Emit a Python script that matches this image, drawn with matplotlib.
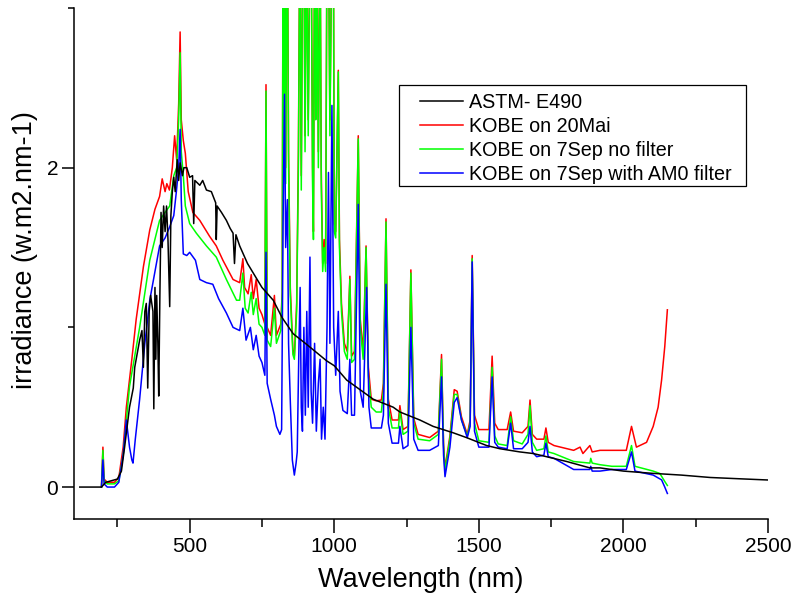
import matplotlib
matplotlib.use('Agg')
import matplotlib.pyplot as plt
from matplotlib.ticker import MultipleLocator
from matplotlib.patches import Rectangle

plt.rcParams['font.family'] = ['Liberation Sans', 'DejaVu Sans']

# ASTM E490 reference spectrum
astm_wl = [120, 195, 200, 210, 230, 250, 264, 275, 292, 305, 310, 327, 335, 340, 345, 350,
           355, 360, 365, 373, 376, 380, 383, 386, 390, 393, 397, 401, 405, 410, 415, 420,
           425, 431, 435, 440, 445, 450, 457, 462, 467, 475, 480, 490, 500, 510, 514, 518,
           535, 545, 558, 575, 590, 592, 595, 610, 627, 640, 650, 655, 660, 673, 700, 720,
           750, 789, 820, 858, 900, 927, 974, 1000, 1043, 1089, 1135, 1204, 1227, 1296, 1342,
           1411, 1457, 1527, 1573, 1642, 1688, 1804, 1884, 1919, 2000, 2100, 2200, 2300, 2400, 2503]
astm_val = [0.0, 0.0, 0.01, 0.03, 0.04, 0.05, 0.10, 0.25, 0.50, 0.62, 0.75, 0.92, 0.98, 0.75, 1.10, 1.15,
            0.62, 1.10, 1.20, 1.10, 0.49, 1.25, 0.80, 1.20, 0.90, 0.57, 1.20, 1.72, 1.50, 1.76, 1.60, 1.76,
            1.55, 1.13, 1.70, 1.85, 1.94, 1.85, 2.05, 1.92, 2.03, 1.95, 2.00, 2.00, 1.94, 1.95, 1.65, 1.92,
            1.89, 1.92, 1.86, 1.85, 1.78, 1.55, 1.76, 1.72, 1.67, 1.62, 1.59, 1.40, 1.58, 1.51, 1.40, 1.34,
            1.25, 1.17, 1.06, 0.96, 0.90, 0.86, 0.79, 0.76, 0.67, 0.61, 0.55, 0.50, 0.47, 0.42, 0.38,
            0.34, 0.31, 0.26, 0.24, 0.22, 0.21, 0.16, 0.12, 0.12, 0.10, 0.086, 0.075, 0.06, 0.052, 0.044]

# KOBE on 20Mai
mai_wl = [195, 200, 204, 215, 240, 255, 270, 281, 300, 315, 340, 362, 380, 396, 405, 415,
          421, 430, 440, 448, 455, 462, 467, 471, 478, 485, 495, 511, 535, 569, 592, 615,
          650, 673, 684, 690, 702, 713, 720, 730, 740, 750, 760, 764, 768, 780, 793, 800,
          815, 820, 823, 826, 828, 832, 835, 838, 842, 848, 857, 862, 870, 876, 881, 886,
          891, 895, 899, 904, 910, 916, 920, 925, 928, 932, 936, 940, 945, 951, 955, 960,
          965, 970, 975, 980, 985, 992, 997, 1000, 1005, 1014, 1018, 1025, 1035, 1045, 1054, 1060,
          1070, 1083, 1090, 1100, 1110, 1118, 1128, 1145, 1163, 1170, 1179, 1187, 1200, 1222, 1227, 1238,
          1255, 1265, 1275, 1290, 1330, 1360, 1371, 1378, 1383, 1400, 1415, 1425, 1440, 1460, 1470, 1477,
          1485, 1500, 1535, 1546, 1555, 1567, 1598, 1610, 1620, 1650, 1670, 1677, 1685, 1700, 1725, 1732,
          1740, 1760, 1828, 1850, 1860, 1884, 1892, 1919, 1960, 2010, 2028, 2045, 2080, 2103, 2120, 2132,
          2143, 2152]
mai_val = [0.0, 0.25, 0.05, 0.03, 0.03, 0.06, 0.25, 0.50, 0.80, 1.05, 1.38, 1.61, 1.74, 1.82, 1.93, 1.85,
           1.90, 1.86, 2.00, 2.20, 2.05, 2.40, 2.85, 2.30, 2.17, 2.09, 1.85, 1.72, 1.67, 1.57, 1.51, 1.42,
           1.30, 1.28, 1.43, 1.25, 1.21, 1.33, 1.18, 1.30, 1.12, 1.08, 1.02, 2.52, 1.00, 0.95, 1.20, 0.95,
           1.02, 1.22, 3.50, 2.05, 3.50, 2.00, 3.10, 3.50, 2.10, 1.25, 0.86, 0.82, 1.15, 2.10, 3.50, 1.95,
           3.50, 3.50, 2.20, 3.50, 2.30, 3.50, 3.50, 2.00, 1.60, 3.50, 2.40, 3.50, 2.10, 3.50, 2.00, 1.40,
           1.55, 1.40, 3.50, 3.50, 2.30, 3.50, 3.50, 1.65, 1.60, 2.61, 1.55, 1.15, 0.90, 0.85, 1.32, 0.82,
           0.85, 2.20, 1.05, 0.85, 1.51, 0.75, 0.55, 0.54, 0.545, 0.65, 1.68, 0.55, 0.42, 0.42, 0.51, 0.36,
           0.38, 1.36, 0.43, 0.33, 0.31, 0.35, 0.83, 0.27, 0.12, 0.32, 0.61, 0.60, 0.44, 0.33, 0.42, 1.45,
           0.45, 0.36, 0.36, 0.82, 0.40, 0.36, 0.36, 0.47, 0.35, 0.34, 0.38, 0.545, 0.33, 0.30, 0.30, 0.37,
           0.28, 0.26, 0.23, 0.25, 0.21, 0.26, 0.22, 0.23, 0.23, 0.23, 0.38, 0.25, 0.28, 0.38, 0.50, 0.67,
           0.88, 1.11]

# KOBE on 7Sep no filter
sep_wl = [195, 200, 204, 215, 240, 255, 270, 292, 327, 362, 396, 415, 431, 445, 455, 462,
          467, 471, 478, 485, 500, 523, 558, 592, 627, 662, 673, 684, 692, 702, 713, 720,
          730, 740, 750, 760, 764, 768, 780, 793, 800, 815, 820, 823, 826, 828, 832, 835,
          838, 842, 848, 857, 862, 870, 876, 881, 886, 891, 895, 899, 904, 910, 916, 920,
          925, 928, 932, 936, 940, 945, 951, 955, 960, 965, 970, 975, 980, 985, 992, 997,
          1000, 1005, 1014, 1018, 1025, 1035, 1045, 1054, 1060, 1070, 1083, 1090, 1100, 1110, 1118, 1128,
          1145, 1163, 1170, 1179, 1187, 1200, 1222, 1227, 1238, 1255, 1265, 1275, 1290, 1330, 1360, 1371,
          1378, 1383, 1400, 1415, 1425, 1440, 1460, 1470, 1477, 1485, 1500, 1535, 1546, 1555, 1567, 1598,
          1610, 1620, 1650, 1670, 1677, 1685, 1700, 1725, 1732, 1740, 1760, 1828, 1884, 1887, 1892, 1919,
          1960, 2010, 2028, 2040, 2103, 2126, 2143, 2152]
sep_val = [0.0, 0.23, 0.04, 0.02, 0.02, 0.04, 0.20, 0.63, 1.00, 1.42, 1.67, 1.72, 1.76, 1.95, 2.00, 2.30,
           2.72, 2.10, 1.95, 1.76, 1.65, 1.59, 1.51, 1.44, 1.30, 1.17, 1.17, 1.34, 1.12, 1.09, 1.22, 1.08,
           1.18, 1.02, 1.00, 0.95, 2.48, 0.92, 0.88, 1.12, 0.90, 0.98, 1.20, 3.50, 2.00, 3.50, 1.90, 3.00,
           3.50, 2.00, 1.20, 0.83, 0.80, 1.10, 2.00, 3.50, 1.86, 3.50, 3.50, 2.10, 3.50, 2.20, 3.50, 3.50,
           1.90, 1.55, 3.50, 2.30, 3.50, 2.00, 3.50, 1.90, 1.35, 1.50, 1.35, 3.50, 3.50, 2.20, 3.50, 3.50,
           1.60, 1.56, 2.60, 1.50, 1.10, 0.85, 0.80, 1.30, 0.78, 0.80, 2.18, 1.00, 0.80, 1.50, 0.70, 0.50,
           0.47, 0.47, 0.60, 1.66, 0.50, 0.37, 0.37, 0.48, 0.33, 0.35, 1.34, 0.40, 0.30, 0.29, 0.33, 0.80,
           0.25, 0.10, 0.30, 0.58, 0.58, 0.42, 0.32, 0.40, 1.43, 0.40, 0.29, 0.28, 0.75, 0.32, 0.27, 0.26,
           0.44, 0.29, 0.27, 0.33, 0.51, 0.28, 0.23, 0.24, 0.32, 0.22, 0.21, 0.16, 0.15, 0.18, 0.15, 0.14,
           0.13, 0.13, 0.26, 0.13, 0.10, 0.085, 0.035, 0.01]

# KOBE on 7Sep with AM0 filter
am0_wl = [195, 200, 204, 215, 240, 255, 270, 281, 292, 300, 304, 312, 327, 345, 362, 380,
          396, 415, 431, 445, 454, 462, 467, 471, 478, 490, 500, 520, 535, 558, 580, 600,
          627, 650, 673, 684, 695, 710, 720, 730, 740, 750, 760, 764, 768, 780, 793, 800,
          812, 818, 823, 828, 832, 838, 842, 848, 855, 862, 868, 872, 878, 882, 886, 890,
          895, 900, 905, 910, 916, 920, 925, 932, 938, 945, 951, 956, 962, 968, 975, 980,
          985, 992, 998, 1005, 1014, 1020, 1030, 1045, 1054, 1060, 1070, 1083, 1090, 1100, 1112, 1120,
          1128, 1163, 1170, 1179, 1187, 1200, 1222, 1227, 1238, 1255, 1265, 1275, 1290, 1330, 1360, 1371,
          1378, 1383, 1400, 1415, 1425, 1440, 1460, 1470, 1477, 1485, 1500, 1535, 1546, 1555, 1567, 1598,
          1610, 1620, 1650, 1670, 1677, 1685, 1700, 1725, 1732, 1740, 1760, 1828, 1884, 1887, 1892, 1919,
          1960, 2010, 2028, 2040, 2103, 2132, 2143, 2152]
am0_val = [0.0, 0.17, 0.02, 0.0, 0.0, 0.03, 0.20, 0.42, 0.25, 0.17, 0.15, 0.30, 0.55, 0.90, 1.17, 1.35,
           1.51, 1.56, 1.63, 1.70, 1.85, 2.00, 2.24, 1.80, 1.46, 1.45, 1.47, 1.42, 1.30, 1.28, 1.27, 1.18,
           1.09, 1.00, 0.98, 1.12, 0.92, 1.00, 0.86, 0.95, 0.82, 0.78, 0.70, 1.47, 0.65, 0.55, 0.45, 0.38,
           0.33, 0.36, 1.65, 2.46, 1.50, 1.80, 0.90, 0.54, 0.17, 0.075, 0.15, 0.22, 0.90, 1.25, 0.50, 0.35,
           1.00, 0.45, 1.10, 0.50, 1.44, 0.60, 0.40, 0.90, 0.35, 0.65, 0.80, 0.30, 0.50, 0.30, 1.00, 1.97,
           0.90, 2.39, 1.00, 0.70, 1.10, 0.60, 0.48, 0.46, 0.80, 0.45, 0.45, 1.77, 0.60, 0.50, 1.25, 0.50,
           0.37, 0.37, 0.45, 1.27, 0.40, 0.275, 0.275, 0.38, 0.24, 0.26, 1.00, 0.30, 0.23, 0.23, 0.26, 0.69,
           0.20, 0.065, 0.25, 0.53, 0.56, 0.42, 0.31, 0.38, 1.41, 0.35, 0.25, 0.25, 0.69, 0.28, 0.25, 0.24,
           0.40, 0.24, 0.24, 0.28, 0.38, 0.22, 0.19, 0.20, 0.275, 0.19, 0.18, 0.11, 0.11, 0.13, 0.10, 0.10,
           0.11, 0.11, 0.22, 0.10, 0.075, 0.045, 0.0, -0.04]

fig = plt.figure(figsize=(7.94, 6.06), dpi=100)
ax = fig.add_axes([74/794, 1 - 519/606, 694/794, 511/606])

ax.plot(mai_wl, mai_val, color='#ff0000', lw=1.1, label='KOBE on 20Mai', zorder=2)
ax.plot(sep_wl, sep_val, color='#00ff00', lw=1.1, label='KOBE on 7Sep no filter', zorder=3)
ax.plot(am0_wl, am0_val, color='#0000ff', lw=1.1, label='KOBE on 7Sep with AM0 filter', zorder=4)
ax.plot(astm_wl, astm_val, color='black', lw=1.1, label='ASTM- E490', zorder=5)

ax.set_xlim(100, 2500)
ax.set_ylim(-0.2, 3.0)
ax.spines['top'].set_visible(False)
ax.spines['right'].set_visible(False)
for s in ['left', 'bottom']:
    ax.spines[s].set_linewidth(1.1)

ax.xaxis.set_major_locator(MultipleLocator(500))
ax.xaxis.set_minor_locator(MultipleLocator(250))
ax.set_xticks([500, 1000, 1500, 2000, 2500])
ax.yaxis.set_major_locator(MultipleLocator(2))
ax.yaxis.set_minor_locator(MultipleLocator(1))
ax.tick_params(axis='x', which='major', length=10, width=1.1, labelsize=15, pad=3)
ax.tick_params(axis='x', which='minor', length=6, width=1.1)
ax.tick_params(axis='y', which='major', length=8.5, width=1.1, labelsize=15, pad=3)
ax.tick_params(axis='y', which='minor', length=4.5, width=1.1)

ax.set_xlabel('Wavelength (nm)', fontsize=19.5, labelpad=8)
ax.set_ylabel('irradiance (w.m2.nm-1)', fontsize=19.5)
ax.yaxis.set_label_coords(-0.052, 0.526)

handles, labels = ax.get_legend_handles_labels()
order = [3, 0, 1, 2]
leg = ax.legend([handles[i] for i in order], [labels[i] for i in order],
                loc='upper left', bbox_to_anchor=(0.487, 0.849), borderaxespad=0,
                fontsize=14.2, frameon=False,
                handlelength=2.2, handletextpad=0.3, labelspacing=0.25, borderpad=0.4)

# legend frame (the reference box has wider side margins than top/bottom)
fig.patches.append(Rectangle((399/794, 1 - 186/606), 347/794, 101/606,
                             transform=fig.transFigure, fill=False,
                             edgecolor='black', linewidth=0.9, zorder=10))

plt.savefig('out.png', dpi=100)
